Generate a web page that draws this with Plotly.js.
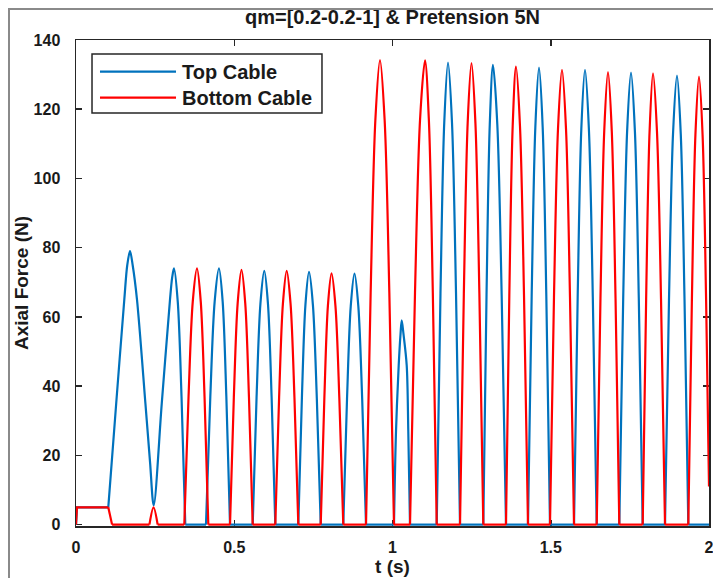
<!DOCTYPE html>
<html>
<head>
<meta charset="utf-8">
<script src="https://cdn.plot.ly/plotly-3.0.1.min.js"></script>
<style>
html,body{margin:0;padding:0;background:#fff;}
#wrap{position:relative;width:713px;height:578px;overflow:hidden;}
#plot{position:absolute;left:0;top:0;width:713px;height:578px;}
#frame{position:absolute;left:8px;top:8px;width:720px;height:600px;border-left:2px solid #8a8a8a;border-top:2px solid #8a8a8a;pointer-events:none;}
</style>
</head>
<body>
<div id="wrap"><div id="plot"></div><div id="frame"></div></div>
<script>
// Time (s) and axial force (N)
const topT = [0, 0.003, 0.102, 0.127, 0.1526, 0.162, 0.1706, 0.179, 0.1927, 0.2193, 0.234, 0.2455,
  0.271, 0.297, 0.304, 0.3096, 0.3215, 0.3334, 0.3453,
  0.4107, 0.4244, 0.4381, 0.4518, 0.4634, 0.4750, 0.4866,
  0.5583, 0.5705, 0.5827, 0.5949, 0.6065, 0.6181, 0.6297,
  0.7024, 0.7137, 0.7249, 0.7362, 0.7485, 0.7609, 0.7732,
  0.8445, 0.8563, 0.8681, 0.8799, 0.8920, 0.9042, 0.9163,
  1.0047, 1.0111, 1.0196, 1.0253, 1.0291, 1.0348, 1.0449, 1.0499, 1.0553,
  1.1397, 1.1516, 1.1635, 1.1754, 1.1880, 1.2007, 1.2133,
  1.2869, 1.2971, 1.3073, 1.3175, 1.3312, 1.3449, 1.3586,
  1.4281, 1.4397, 1.4513, 1.4629, 1.4745, 1.4860, 1.4976,
  1.5735, 1.5851, 1.5966, 1.6082, 1.6205, 1.6329, 1.6452,
  1.7166, 1.7289, 1.7413, 1.7536, 1.7659, 1.7782, 1.7905,
  1.8610, 1.8736, 1.8863, 1.8989, 1.9108, 1.9227, 1.9346,
  2.0];
const topF = [0, 5, 5, 35, 65, 75, 79, 75, 65, 35, 18, 5.6,
  35, 65, 71.5, 74, 64.4, 37, 0,
  0, 37, 64.4, 74, 64.4, 37, 0,
  0, 36.7, 63.8, 73.3, 63.8, 36.7, 0,
  0, 36.5, 63.5, 73, 63.5, 36.5, 0,
  0, 36.3, 63.1, 72.5, 63.1, 36.3, 0,
  0, 27, 46, 55, 59, 55, 46, 27, 0,
  0, 66.8, 116.1, 133.5, 116.1, 66.8, 0,
  0, 66.4, 115.5, 132.8, 115.5, 66.4, 0,
  0, 66, 114.8, 132, 114.8, 66, 0,
  0, 65.7, 114.3, 131.4, 114.3, 65.7, 0,
  0, 65.3, 113.6, 130.6, 113.6, 65.3, 0,
  0, 64.9, 112.8, 129.7, 112.8, 64.9, 0,
  0];

const bottomT = [0, 0.003, 0.102, 0.114, 0.232, 0.245, 0.258,
  0.3422, 0.3556, 0.3689, 0.3823, 0.3942, 0.4061, 0.4180,
  0.4866, 0.4987, 0.5108, 0.5229, 0.5347, 0.5465, 0.5583,
  0.6297, 0.6417, 0.6537, 0.6657, 0.6779, 0.6902, 0.7024,
  0.7732, 0.7846, 0.7959, 0.8073, 0.8197, 0.8321, 0.8445,
  0.9163, 0.9310, 0.9458, 0.9605, 0.9752, 0.9900, 1.0047,
  1.0553, 1.0711, 1.0869, 1.1027, 1.1150, 1.1274, 1.1397,
  1.2133, 1.2254, 1.2375, 1.2496, 1.2620, 1.2745, 1.2869,
  1.3586, 1.3691, 1.3797, 1.3902, 1.4028, 1.4155, 1.4281,
  1.4976, 1.5102, 1.5229, 1.5355, 1.5482, 1.5608, 1.5735,
  1.6452, 1.6571, 1.6690, 1.6809, 1.6928, 1.7047, 1.7166,
  1.7905, 1.8014, 1.8122, 1.8231, 1.8357, 1.8484, 1.8610,
  1.9346, 1.9459, 1.9571, 1.9684, 1.9797, 1.9909, 2.0];
const bottomF = [0, 5, 5, 0, 0, 5, 0,
  0, 37, 64.4, 74, 64.4, 37, 0,
  0, 36.8, 64, 73.6, 64, 36.8, 0,
  0, 36.7, 63.8, 73.3, 63.8, 36.7, 0,
  0, 36.3, 63.2, 72.6, 63.2, 36.3, 0,
  0, 67.1, 116.8, 134.2, 116.8, 67.1, 0,
  0, 67, 116.7, 134.1, 116.7, 67, 0,
  0, 66.7, 116, 133.3, 116, 66.7, 0,
  0, 66.2, 115.1, 132.3, 115.1, 66.2, 0,
  0, 65.7, 114.3, 131.4, 114.3, 65.7, 0,
  0, 65.4, 113.7, 130.7, 113.7, 65.4, 0,
  0, 65.2, 113.4, 130.4, 113.4, 65.2, 0,
  0, 64.7, 112.6, 129.4, 112.6, 64.7, 11];

const seriesNames = ['Top Cable', 'Bottom Cable'];
const seriesColors = ['#0072BD', '#FF0000'];
const xTicks = [0, 0.5, 1, 1.5, 2];
const xTickText = ['0', '0.5', '1', '1.5', '2'];
const yTicks = [0, 20, 40, 60, 80, 100, 120, 140];
const chartTitle = 'qm=[0.2-0.2-1] & Pretension 5N';
const xTitle = 't (s)';
const yTitle = 'Axial Force (N)';

const FONT = 'Liberation Sans, Arial, sans-serif';
const INK = '#1a1a1a';
const LW = 2.2;

// Split a series into flat runs (drawn straight) and curved runs (spline-smoothed),
// separated by nulls, so the flat pretension/zero parts stay flat.
function splitSeries(t, f) {
  const flat = {x: [], y: []}, curve = {x: [], y: []};
  let prevKind = null;
  for (let i = 0; i < t.length - 1; i++) {
    const kind = (f[i] === f[i + 1] || (i === 0)) ? 'flat' : 'curve';
    const tgt = kind === 'flat' ? flat : curve;
    if (kind !== prevKind) {
      if (tgt.x.length) { tgt.x.push(null); tgt.y.push(null); }
      tgt.x.push(t[i]); tgt.y.push(f[i]);
    }
    tgt.x.push(t[i + 1]); tgt.y.push(f[i + 1]);
    prevKind = kind;
  }
  return {flat, curve};
}

const series = [[topT, topF], [bottomT, bottomF]];
const traces = [];
series.forEach(([t, f], k) => {
  const s = splitSeries(t, f);
  traces.push({x: s.flat.x, y: s.flat.y, name: seriesNames[k], type: 'scatter', mode: 'lines',
    connectgaps: false, line: {color: seriesColors[k], width: LW, shape: 'linear'}, showlegend: false});
  traces.push({x: s.curve.x, y: s.curve.y, name: seriesNames[k], type: 'scatter', mode: 'lines',
    connectgaps: false, line: {color: seriesColors[k], width: LW, shape: 'spline', smoothing: 0.9}, showlegend: false});
});

const axisCommon = {
  showline: true, linecolor: '#262626', linewidth: 1.5, mirror: 'ticks',
  ticks: 'inside', ticklen: 6, tickwidth: 1.5, tickcolor: '#262626',
  showgrid: false, zeroline: false, layer: 'below traces',
  ticklabeloverflow: 'allow',
  tickfont: {family: FONT, size: 16, color: INK, weight: 'bold'}
};

// custom legend (box, sample lines, labels) in paper coordinates
const lg = {x0: 0.0253, x1: 0.3886, y0: 0.8498, y1: 0.9712, lx0: 0.0379, lx1: 0.158, tx: 0.165, ya: 0.9348, yb: 0.8813};
const legendFont = {family: FONT, size: 20, color: INK, weight: 'bold'};

const layout = {
  width: 713, height: 578,
  margin: {l: 76, r: 4, t: 40, b: 52},
  paper_bgcolor: '#ffffff', plot_bgcolor: '#ffffff',
  title: {text: chartTitle, x: 0.5, xref: 'paper', xanchor: 'center',
          y: 1 - 17 / 578, yref: 'container', yanchor: 'middle',
          font: {family: FONT, size: 20, color: INK, weight: 'bold'}},
  xaxis: Object.assign({}, axisCommon, {
    range: [0, 2], tickvals: xTicks, ticktext: xTickText, ticklabelstandoff: 6,
    title: {text: xTitle, standoff: 4, font: {family: FONT, size: 19, color: INK, weight: 'bold'}}
  }),
  yaxis: Object.assign({}, axisCommon, {
    range: [-0.4, 140], tickvals: yTicks,
    ticklabelstandoff: 11,
    title: {text: yTitle, standoff: 0, font: {family: FONT, size: 19, color: INK, weight: 'bold'}}
  }),
  shapes: [
    {type: 'rect', xref: 'paper', yref: 'paper', x0: lg.x0, x1: lg.x1, y0: lg.y0, y1: lg.y1,
     line: {color: '#262626', width: 1.5}, fillcolor: '#ffffff', layer: 'above'},
    {type: 'line', xref: 'paper', yref: 'paper', x0: lg.lx0, x1: lg.lx1, y0: lg.ya, y1: lg.ya,
     line: {color: seriesColors[0], width: LW}},
    {type: 'line', xref: 'paper', yref: 'paper', x0: lg.lx0, x1: lg.lx1, y0: lg.yb, y1: lg.yb,
     line: {color: seriesColors[1], width: LW}}
  ],
  annotations: [
    {text: seriesNames[0], xref: 'paper', yref: 'paper', x: lg.tx, y: lg.ya, xanchor: 'left', yanchor: 'middle',
     showarrow: false, font: legendFont},
    {text: seriesNames[1], xref: 'paper', yref: 'paper', x: lg.tx, y: lg.yb, xanchor: 'left', yanchor: 'middle',
     showarrow: false, font: legendFont}
  ]
};

Plotly.newPlot('plot', traces, layout, {displayModeBar: false, staticPlot: true});
</script>
</body>
</html>
